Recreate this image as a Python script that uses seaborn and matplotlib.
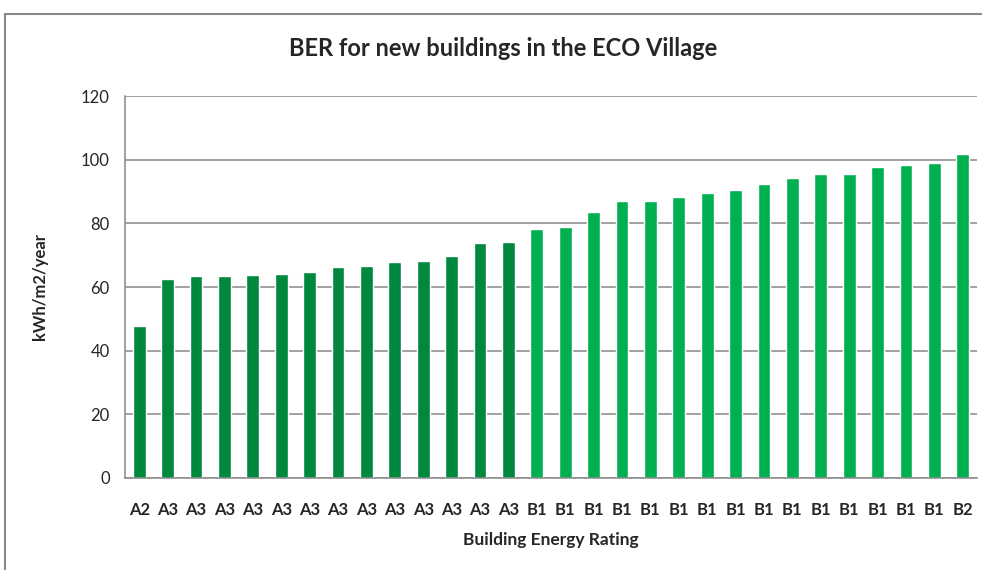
import pandas as pd
import matplotlib
matplotlib.use('Agg')
import matplotlib.pyplot as plt
from matplotlib.lines import Line2D
import seaborn as sns

# Dữ liệu
ratings = ['A2'] + ['A3'] * 13 + ['B1'] * 15 + ['B2']
values = [47.7, 62.5, 63.4, 63.4, 63.7, 64.0, 64.6, 66.3, 66.5, 67.7, 68.2, 69.7, 73.9, 74.2,
          78.2, 78.8, 83.6, 87.0, 87.0, 88.3, 89.5, 90.6, 92.5, 94.2, 95.4, 95.4, 97.7, 98.3, 98.9,
          101.9]
groups = ['A'] * 14 + ['B'] * 16
colors = {'A': '#00883F', 'B': '#00B050'}
y_ticks = [0, 20, 40, 60, 80, 100, 120]

df = pd.DataFrame({'pos': range(len(values)), 'value': values, 'group': groups})

sns.set_style('white')
plt.rcParams['font.family'] = ['Lato', 'DejaVu Sans']

fig = plt.figure(figsize=(9.82, 5.70), dpi=100)
ax = fig.add_axes([125 / 982, 92 / 570, 852 / 982, 382 / 570])

sns.barplot(data=df, x='pos', y='value', hue='group', palette=colors,
            dodge=False, legend=False, width=0.45, saturation=1, ax=ax)

grey = '#888888'
ax.set_xlim(-0.5, len(values) - 0.5)
ax.set_ylim(0, 120)
ax.set_yticks(y_ticks)
ax.set_yticklabels([str(t) for t in y_ticks], fontsize=12)
ax.yaxis.grid(True, color=grey, linewidth=1.1)
ax.set_axisbelow(True)

ax.set_xticks(range(len(values)))
ax.set_xticklabels(ratings, fontsize=12, fontweight='bold')
ax.set_xticks([i - 0.5 for i in range(len(values) + 1)], minor=True)
ax.tick_params(axis='x', which='major', length=0, pad=17)
ax.tick_params(axis='x', which='minor', length=6, color=grey, width=1.1, direction='out')
ax.tick_params(axis='y', length=6, color=grey, width=1.1, direction='out', pad=5)

for side in ['top', 'right']:
    ax.spines[side].set_visible(False)
for side in ['left', 'bottom']:
    ax.spines[side].set_color(grey)
    ax.spines[side].set_linewidth(1.1)

ax.set_xlabel('Building Energy Rating', fontsize=12.5, fontweight='bold', labelpad=10)
ax.set_ylabel('kWh/m2/year', fontsize=12, fontweight='bold', labelpad=24)
fig.text(503 / 982, 1 - 49 / 570, 'BER for new buildings in the ECO Village',
         ha='center', va='center', fontsize=17, fontweight='bold')

# Khung viền của biểu đồ
fig.add_artist(Line2D([5 / 982, 1.0], [1 - 14 / 570, 1 - 14 / 570], color=grey, linewidth=1.5))
fig.add_artist(Line2D([5 / 982, 5 / 982], [0, 1 - 14 / 570], color=grey, linewidth=1.5))

fig.savefig('out.png', dpi=100)
